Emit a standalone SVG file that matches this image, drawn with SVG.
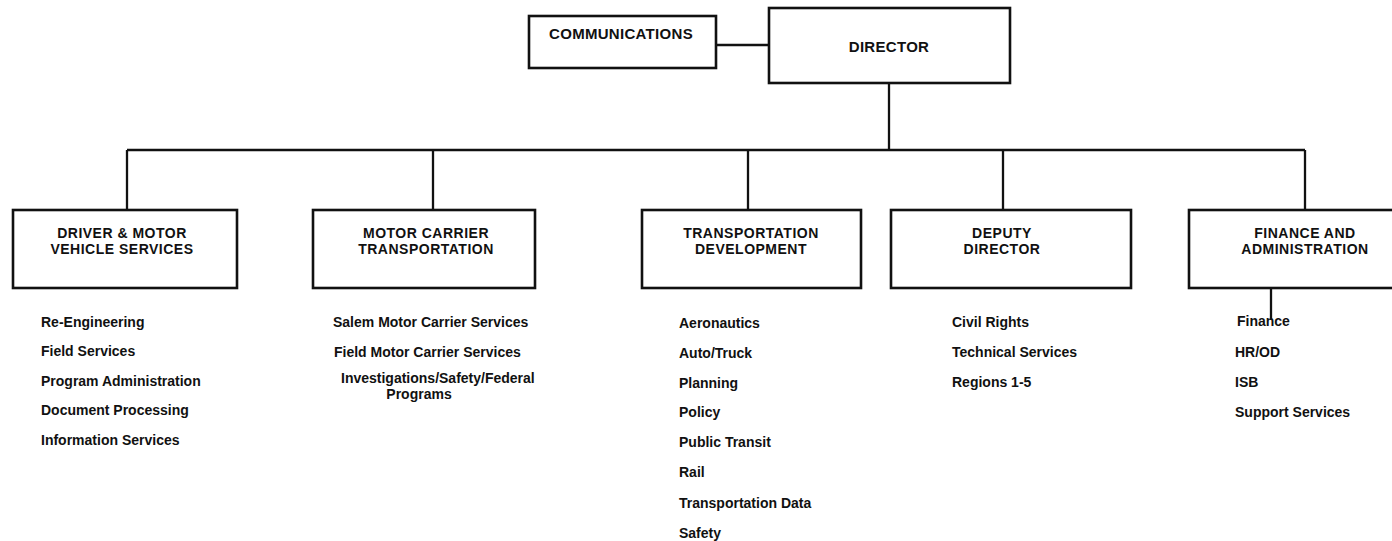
<svg xmlns="http://www.w3.org/2000/svg" width="1392" height="541" viewBox="0 0 1392 541">
<style>
  .box{fill:#fff;stroke:#111;stroke-width:2.6}
  .ln{stroke:#111;stroke-width:2.3;fill:none}
  .t{font-family:"Liberation Sans",Arial,sans-serif;font-weight:bold;fill:#111}
  .top{font-size:15px;text-anchor:middle;letter-spacing:0.3px}
  .ttl{font-size:14px;text-anchor:middle;letter-spacing:0.5px}
  .it{font-size:14px}
</style>
<rect width="1392" height="541" fill="#fff"/>
<g id="connectors">
  <line class="ln" x1="716" y1="45" x2="769" y2="45"/>
  <line class="ln" x1="889" y1="83" x2="889" y2="150"/>
  <line class="ln" x1="127" y1="150" x2="1305" y2="150"/>
  <line class="ln" x1="127" y1="150" x2="127" y2="210"/>
  <line class="ln" x1="433" y1="150" x2="433" y2="210"/>
  <line class="ln" x1="748" y1="150" x2="748" y2="210"/>
  <line class="ln" x1="1003" y1="150" x2="1003" y2="210"/>
  <line class="ln" x1="1305" y1="150" x2="1305" y2="210"/>
  <line class="ln" x1="1271" y1="263" x2="1271" y2="287" stroke-dasharray="3,3" stroke-width="1.5"/>
  <line class="ln" x1="1271" y1="287" x2="1271" y2="320" stroke-width="1.8"/>
</g>
<g id="communications">
  <rect class="box" x="529" y="16" width="187" height="52"/>
  <text class="t top" x="621" y="39">COMMUNICATIONS</text>
</g>
<g id="director">
  <rect class="box" x="769" y="8" width="241" height="75"/>
  <text class="t top" x="889" y="52">DIRECTOR</text>
</g>
<g id="driver">
  <rect class="box" x="13" y="210" width="224" height="78"/>
  <text class="t ttl" x="122" y="238">DRIVER &amp; MOTOR</text>
  <text class="t ttl" x="122" y="254">VEHICLE SERVICES</text>
  <text class="t it" x="41" y="327">Re-Engineering</text>
  <text class="t it" x="41" y="356">Field Services</text>
  <text class="t it" x="41" y="386">Program Administration</text>
  <text class="t it" x="41" y="415">Document Processing</text>
  <text class="t it" x="41" y="445">Information Services</text>
</g>
<g id="motor-carrier">
  <rect class="box" x="313" y="210" width="222" height="78"/>
  <text class="t ttl" x="426" y="238">MOTOR CARRIER</text>
  <text class="t ttl" x="426" y="254">TRANSPORTATION</text>
  <text class="t it" x="333" y="327">Salem Motor Carrier Services</text>
  <text class="t it" x="334" y="357">Field Motor Carrier Services</text>
  <text class="t it" x="341" y="383">Investigations/Safety/Federal</text>
  <text class="t it" x="419" y="399" text-anchor="middle">Programs</text>
</g>
<g id="transportation-development">
  <rect class="box" x="642" y="210" width="219" height="78"/>
  <text class="t ttl" x="751" y="238">TRANSPORTATION</text>
  <text class="t ttl" x="751" y="254">DEVELOPMENT</text>
  <text class="t it" x="679" y="328">Aeronautics</text>
  <text class="t it" x="679" y="358">Auto/Truck</text>
  <text class="t it" x="679" y="388">Planning</text>
  <text class="t it" x="679" y="417">Policy</text>
  <text class="t it" x="679" y="447">Public Transit</text>
  <text class="t it" x="679" y="477">Rail</text>
  <text class="t it" x="679" y="508">Transportation Data</text>
  <text class="t it" x="679" y="538">Safety</text>
</g>
<g id="deputy-director">
  <rect class="box" x="891" y="210" width="240" height="78"/>
  <text class="t ttl" x="1002" y="238">DEPUTY</text>
  <text class="t ttl" x="1002" y="254">DIRECTOR</text>
  <text class="t it" x="952" y="327">Civil Rights</text>
  <text class="t it" x="952" y="357">Technical Services</text>
  <text class="t it" x="952" y="387">Regions 1-5</text>
</g>
<g id="finance-administration">
  <rect class="box" x="1189" y="210" width="210" height="78"/>
  <text class="t ttl" x="1305" y="238">FINANCE AND</text>
  <text class="t ttl" x="1305" y="254">ADMINISTRATION</text>
  <text class="t it" x="1237" y="326">Finance</text>
  <text class="t it" x="1235" y="357">HR/OD</text>
  <text class="t it" x="1235" y="387">ISB</text>
  <text class="t it" x="1235" y="417">Support Services</text>
</g>
</svg>
